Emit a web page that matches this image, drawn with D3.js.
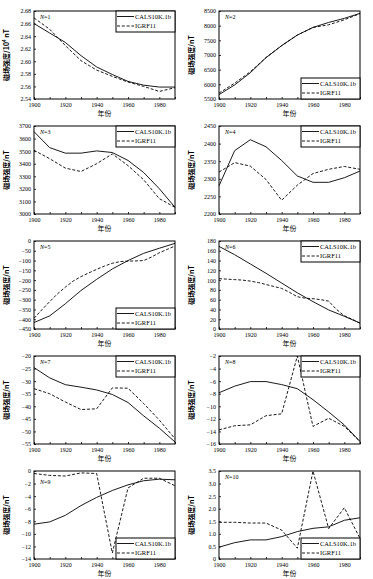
<!DOCTYPE html>
<html><head><meta charset="utf-8">
<script src="https://cdn.jsdelivr.net/npm/d3@7"></script>
<style>
body{margin:0;background:#fff;}
svg{display:block;}
text{font-family:"Liberation Serif","Times New Roman",serif;fill:#000;}
.cjk{font-family:"Noto Sans CJK SC",sans-serif;}
</style></head><body>
<svg id="c" width="373" height="579"></svg>
<script>
const years = [1900,1910,1920,1930,1940,1950,1960,1970,1980,1990];
const years5 = [1900,1905,1910,1915,1920,1925,1930,1935,1940,1945,1950,1955,1960,1965,1970,1975,1980,1985,1990];
const xTicks = [1900,1920,1940,1960,1980];
const seriesNames = ["CALS10K.1b","IGRF11"];

const cals1 = [2.660,2.645,2.630,2.609,2.591,2.579,2.568,2.562,2.559,2.559];
const igrf1 = [2.669,2.651,2.625,2.601,2.586,2.576,2.567,2.560,2.552,2.558];
const cals2 = [5650,5980,6395,6910,7320,7680,7940,8110,8250,8420];
const igrf2 = [5700,6040,6430,6910,7320,7680,7940,8030,8200,8410];
const cals3 = [3655,3528,3484,3484,3502,3489,3426,3330,3201,3053];
const igrf3 = [3507,3440,3365,3338,3400,3478,3385,3272,3122,3053];
const cals4 = [2280,2380,2411,2391,2352,2308,2290,2290,2303,2322];
const igrf4 = [2319,2346,2336,2298,2239,2282,2315,2327,2335,2327];
const cals5 = [-417,-383,-321,-253,-196,-143,-100,-63,-37,-12];
const igrf5 = [-395,-352,-310,-270,-236,-205,-182,-163,-145,-128,-114,-105,-103,-102,-100,-82,-60,-43,-26];
const cals6 = [169,152,133,114,94,74,56,39,26,12];
const igrf6 = [103,102,101,100,98,95,91,87,83,75,66,63,62,60,57,40,27,20,12];
const cals7 = [-24.6,-28.7,-31.4,-32.4,-33.5,-35.3,-38.5,-43.8,-48.7,-54.2];
const igrf7 = [-33.0,-35.0,-38.3,-41.3,-41.0,-32.7,-32.8,-38.9,-45.5,-52.9];
const cals8 = [-7.85,-6.8,-6.07,-6.07,-6.55,-7.2,-8.95,-10.9,-12.97,-15.6];
const igrf8 = [-13.75,-13.1,-12.95,-11.5,-11.2,-2.0,-13.2,-11.9,-13.2,-15.6];
const cals9 = [-8.46,-8.1,-7.05,-5.5,-4.2,-3.1,-2.2,-1.55,-1.3,-1.4];
const igrf9 = [-0.4,-0.7,-0.8,-0.3,-0.4,-13.05,-2.7,-1.15,-1.15,-2.35];
const cals10 = [0.47,0.65,0.76,0.76,0.89,1.09,1.22,1.28,1.54,1.64];
const igrf10 = [1.46,1.46,1.43,1.43,1.15,0.43,3.5,1.21,2.04,0.82];

const yTicks1 = [2.54,2.56,2.58,2.60,2.62,2.64,2.66,2.68];
const yTicks2 = [5500,6000,6500,7000,7500,8000,8500];
const yTicks3 = [3000,3100,3200,3300,3400,3500,3600,3700];
const yTicks4 = [2200,2250,2300,2350,2400,2450];
const yTicks5 = [-450,-400,-350,-300,-250,-200,-150,-100,-50,0];
const yTicks6 = [0,20,40,60,80,100,120,140,160,180];
const yTicks7 = [-55,-50,-45,-40,-35,-30,-25,-20];
const yTicks8 = [-16,-14,-12,-10,-8,-6,-4,-2];
const yTicks9 = [-14,-12,-10,-8,-6,-4,-2,0];
const yTicks10 = [0,0.5,1.0,1.5,2.0,2.5,3.0,3.5];

const yLabel = "磁场强度/nT";
const xLabel = "年份";

const minus = s => s.replace("-", "\u2212");
const panels = [
  {n:1, cals:cals1, igrf:igrf1, iy:years, ticks:yTicks1, fmt:d=>d.toFixed(2), leg:"top", sup:true},
  {n:2, cals:cals2, igrf:igrf2, iy:years, ticks:yTicks2, fmt:d=>String(d), leg:"bottom"},
  {n:3, cals:cals3, igrf:igrf3, iy:years, ticks:yTicks3, fmt:d=>String(d), leg:"top"},
  {n:4, cals:cals4, igrf:igrf4, iy:years, ticks:yTicks4, fmt:d=>String(d), leg:"top"},
  {n:5, cals:cals5, igrf:igrf5, iy:years5, ticks:yTicks5, fmt:d=>minus(String(d)), leg:"bottom"},
  {n:6, cals:cals6, igrf:igrf6, iy:years5, ticks:yTicks6, fmt:d=>String(d), leg:"top"},
  {n:7, cals:cals7, igrf:igrf7, iy:years, ticks:yTicks7, fmt:d=>minus(String(d)), leg:"top"},
  {n:8, cals:cals8, igrf:igrf8, iy:years, ticks:yTicks8, fmt:d=>minus(String(d)), leg:"top"},
  {n:9, cals:cals9, igrf:igrf9, iy:years, ticks:yTicks9, fmt:d=>minus(String(d)), leg:"bottom", ny:13},
  {n:10, cals:cals10, igrf:igrf10, iy:years, ticks:yTicks10, fmt:d=>d===0?"0":d.toFixed(1), leg:"bottom"}
];

const svg = d3.select("#c");
const colX = [34, 219], rowY0 = 11, rowStep = 115, pw = 141, ph = 88;
const dash = "3,1.8";

panels.forEach((p, i) => {
  const col = i % 2, row = Math.floor(i / 2);
  const g = svg.append("g").attr("transform", `translate(${colX[col]},${rowY0 + row*rowStep})`);
  const x = d3.scaleLinear().domain([1900,1990]).range([0,pw]);
  const y = d3.scaleLinear().domain(d3.extent(p.ticks)).range([ph,0]);

  const xa = g.append("g").attr("transform", `translate(0,${ph})`)
    .call(d3.axisBottom(x).tickValues(d3.range(1900,1991,10)).tickSize(-2).tickPadding(4)
      .tickFormat(d => xTicks.includes(d) ? d : ""));
  xa.select(".domain").remove();
  xa.selectAll("line").attr("stroke","#000").attr("stroke-width",0.8);
  xa.selectAll("text").attr("font-size",6).attr("dy","0.75em").attr("y",3.5);

  const ya = g.append("g")
    .call(d3.axisLeft(y).tickValues(p.ticks).tickSize(-2).tickPadding(4).tickFormat(p.fmt));
  ya.select(".domain").remove();
  ya.selectAll("line").attr("stroke","#000").attr("stroke-width",0.8);
  ya.selectAll("text").attr("font-size",6).attr("x",-3);

  const line = (xs) => d3.line().x((d,j)=>x(xs[j])).y(d=>y(d));
  g.append("path").datum(p.cals).attr("d", line(years)).attr("fill","none")
    .attr("stroke","#000").attr("stroke-width",0.9);
  g.append("path").datum(p.igrf).attr("d", line(p.iy)).attr("fill","none")
    .attr("stroke","#000").attr("stroke-width",0.9).attr("stroke-dasharray",dash);

  g.append("rect").attr("width",pw).attr("height",ph).attr("fill","none")
    .attr("stroke","#000").attr("stroke-width",1);

  const nt = g.append("text").attr("x",6).attr("y",p.ny || 8).attr("font-size",6);
  nt.append("tspan").attr("font-style","italic").text("N");
  nt.append("tspan").text("=" + p.n);

  const lw = 59, lh = 21;
  const lx = pw - lw, ly = p.leg === "top" ? 0 : ph - lh;
  const lg = g.append("g").attr("transform", `translate(${lx},${ly})`);
  lg.append("rect").attr("width",lw).attr("height",lh).attr("fill","#fff")
    .attr("stroke","#000").attr("stroke-width",1);
  seriesNames.forEach((s, k) => {
    const yy = 5.5 + k*9.5;
    lg.append("line").attr("x1",1).attr("x2",18).attr("y1",yy).attr("y2",yy)
      .attr("stroke","#000").attr("stroke-width",0.9)
      .attr("stroke-dasharray", k ? dash : null);
    lg.append("text").attr("x",19).attr("y",yy).attr("dy","0.35em")
      .attr("font-size",6.5).text(s);
  });

  g.append("text").attr("class","cjk").attr("x",pw/2).attr("y",ph+16.5).attr("text-anchor","middle")
    .attr("font-size",7).text(xLabel);

  const yl = g.append("text").attr("class","cjk").attr("transform",`translate(-25,${ph/2}) rotate(-90)`)
    .attr("text-anchor","middle").attr("font-size",7).attr("font-weight","bold");
  if (p.sup) {
    yl.append("tspan").text("磁场强度/10");
    yl.append("tspan").attr("font-size",4.5).attr("dy",-3).text("4");
    yl.append("tspan").attr("dy",3).text(" nT");
  } else {
    yl.text(yLabel);
  }
});
</script>
</body></html>
